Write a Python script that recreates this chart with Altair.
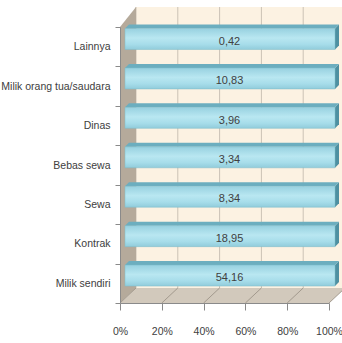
import altair as alt
import pandas as pd

# ---- data (bottom to top) ----
categories = ["Milik sendiri", "Kontrak", "Sewa", "Bebas sewa", "Dinas",
              "Milik orang tua/saudara", "Lainnya"]
values = [54.16, 18.95, 8.34, 3.34, 3.96, 10.83, 0.42]
x_ticks = [0, 0.2, 0.4, 0.6, 0.8, 1.0]

# ---- layout constants ----
W, H = 209, 276
N = len(categories)
PX = 1 / W            # one pixel in x data units
PY = N / H            # one pixel in y data units
FONT = "Liberation Sans Narrow, Liberation Sans, Arial, sans-serif"
FS = 10.5
TXT = "#404040"
AX = "#8a8a8a"

top_to_bottom = categories[::-1]

df = pd.DataFrame({"category": categories, "value": values, "idx": list(range(N))})
df2 = pd.concat([df.assign(edge=0), df.assign(edge=1)], ignore_index=True)

xs = alt.Scale(domain=[0, 1], nice=False, zero=False)
ys = alt.Scale(domain=[0, N], nice=False, zero=False)
x_axis = alt.Axis(values=x_ticks, format=".0%", title=None, grid=False,
                  tickSize=7, labelPadding=16, labelFont=FONT, labelFontSize=FS,
                  labelColor=TXT, domainColor=AX, tickColor=AX, zindex=1,
                  labelOverlap=False, labelFlush=False)


def X(f):
    return alt.X(f, type="quantitative", scale=xs, axis=x_axis, stack=None)


def Y(f):
    return alt.Y(f, type="quantitative", scale=ys, axis=None, stack=None)


# ---- 3D frame: back wall, left wall, floor ----
frame = pd.DataFrame({"k": [0]})
back_wall = alt.Chart(frame).transform_calculate(
    x0=f"{16*PX}", x1=f"{1+16*PX}", y0=f"{15*PY}", y1=f"{N+20*PY}"
).mark_rect(color="#FCF2E2", clip=False).encode(
    x=X("x0"), x2="x1", y=Y("y0"), y2="y1")

grid_df = pd.DataFrame({"t": x_ticks})
back_grid = alt.Chart(grid_df).transform_calculate(
    gx=f"datum.t + {16*PX}", y0=f"{15*PY}", y1=f"{N+20*PY}"
).mark_rule(color="#CBC2B5", strokeWidth=1, clip=False).encode(
    x=X("gx"), y=Y("y0"), y2="y1")

wall_df = pd.DataFrame({"e": [0, 1]})
left_wall = alt.Chart(wall_df).transform_calculate(
    wx=f"datum.e * {16*PX}", wy0=f"datum.e * {15*PY}", wy1=f"{N} + datum.e * {20*PY}"
).mark_area(color="#B5AA9B", orient="vertical", clip=False).encode(
    x=X("wx"), y=Y("wy0"), y2="wy1")

floor = alt.Chart(wall_df).transform_calculate(
    fy=f"datum.e * {15*PY}", fx0=f"datum.e * {16*PX}", fx1=f"1 + datum.e * {16*PX}"
).mark_area(color="#D2C9BC", orient="horizontal", clip=False).encode(
    y=Y("fy"), x=X("fx0"), x2="fx1")

floor_lines = alt.Chart(grid_df).transform_calculate(
    gx2=f"datum.t + {16*PX}", y0="0", y1=f"{15*PY}"
).mark_rule(color="#A39A8E", strokeWidth=1, clip=False).encode(
    x=X("t"), x2="gx2", y=Y("y0"), y2="y1")


# ---- bars (single-series 100% stacked: each bar spans its share of the category total) ----
def share(ch, groupby):
    return ch.transform_joinaggregate(
        total="sum(value)", groupby=groupby
    ).transform_calculate(share="datum.value / datum.total")


front = share(alt.Chart(df), ["category"]).transform_calculate(
    x0=f"{5*PX}", x1=f"datum.share + {6*PX}",
    ytop=f"datum.idx + 1 - {1.5*PY}", ybot=f"datum.idx + 1 - {22.5*PY}"
).mark_rect(
    clip=False,
    fill=alt.Gradient(gradient="linear", x1=0, x2=0, y1=0, y2=1,
                      stops=[alt.GradientStop(offset=0, color="#97D1E0"),
                             alt.GradientStop(offset=0.45, color="#B9E7F1"),
                             alt.GradientStop(offset=0.75, color="#A7DDEA"),
                             alt.GradientStop(offset=1, color="#91CCDB")]),
    stroke="#7FBCCB", strokeWidth=0.5
).encode(x=X("x0"), x2="x1", y=Y("ybot"), y2="ytop")

top_face = share(alt.Chart(df2), ["category", "edge"]).transform_calculate(
    ty=f"datum.idx + 1 - {1.5*PY} + datum.edge * {4*PY}",
    tx0=f"{5*PX} + datum.edge * {4*PX}",
    tx1=f"datum.share + {6*PX} + datum.edge * {4*PX}"
).mark_area(color="#6CAEBF", orient="horizontal", clip=False).encode(
    y=Y("ty"), x=X("tx0"), x2="tx1", detail="category:N")

side_face = share(alt.Chart(df2), ["category", "edge"]).transform_calculate(
    sx=f"datum.share + {6*PX} + datum.edge * {4*PX}",
    sy0=f"datum.idx + 1 - {22.5*PY} + datum.edge * {4*PY}",
    sy1=f"datum.idx + 1 - {1.5*PY} + datum.edge * {4*PY}"
).mark_area(color="#4E90A1", orient="vertical", clip=False).encode(
    x=X("sx"), y=Y("sy0"), y2="sy1", detail="category:N")

labels = share(alt.Chart(df), ["category"]).transform_calculate(
    mid="datum.share / 2",
    lab="replace(format(datum.value, '.2f'), '.', ',')"
).mark_text(font=FONT, fontSize=11, color=TXT, dx=5, dy=-5, baseline="middle",
            clip=False).encode(
    x=X("mid"),
    y=alt.Y("category:N", sort=top_to_bottom,
            scale=alt.Scale(paddingInner=0, paddingOuter=0),
            axis=alt.Axis(title=None, tickBand="extent", tickSize=5, labelPadding=5,
                          labelFont=FONT, labelFontSize=FS, labelColor=TXT,
                          domainColor=AX, tickColor=AX, grid=False, labelLimit=300,
                          zindex=1)),
    text="lab:N")

chart = alt.layer(
    back_wall, back_grid, left_wall, floor, floor_lines,
    side_face, top_face, front, labels
).resolve_scale(y="independent").properties(
    width=W, height=H,
    padding={"left": 120, "top": 27, "right": 13, "bottom": 40},
    autosize=alt.AutoSizeParams(type="none"),
    background="white"
).configure_view(stroke=None)

chart.save("out.html", embed_options={"renderer": "svg", "actions": False})
